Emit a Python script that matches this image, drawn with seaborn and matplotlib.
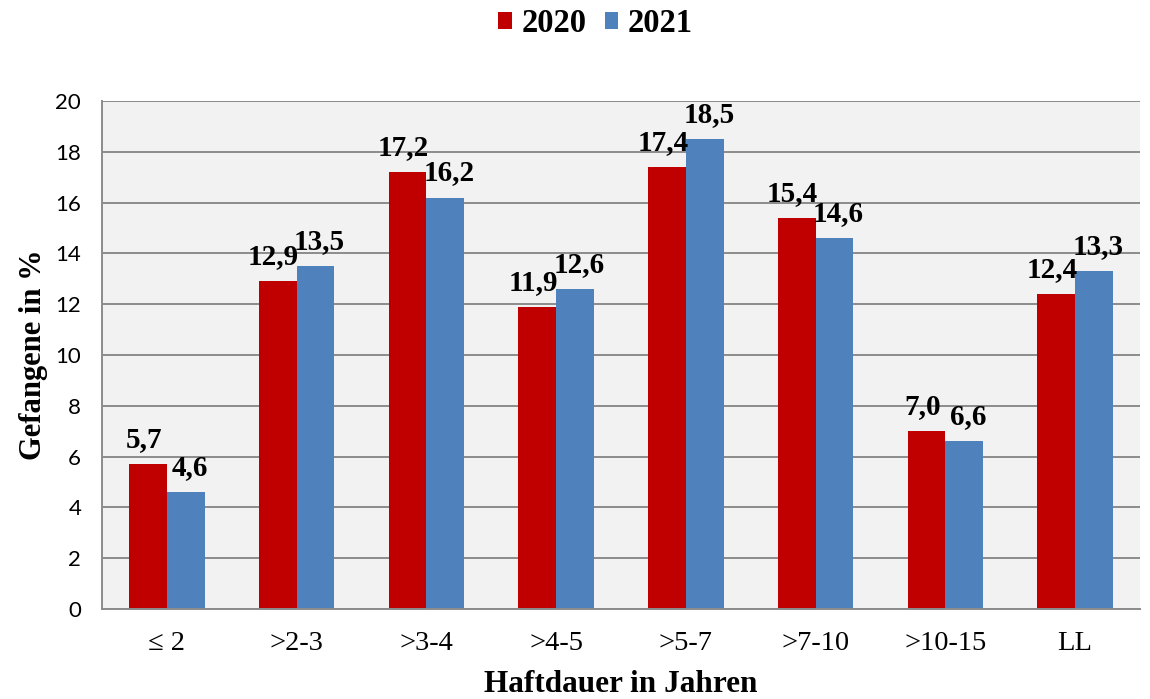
import matplotlib
matplotlib.use("Agg")
import matplotlib.pyplot as plt
import seaborn as sns
import pandas as pd
from matplotlib.patches import Patch
from matplotlib.ticker import FixedLocator

categories = ["\u2264 2", ">2-3", ">3-4", ">4-5", ">5-7", ">7-10", ">10-15", "LL"]
values_2020 = [5.7, 12.9, 17.2, 11.9, 17.4, 15.4, 7.0, 12.4]
values_2021 = [4.6, 13.5, 16.2, 12.6, 18.5, 14.6, 6.6, 13.3]
series = ["2020", "2021"]
colors = ["#C00000", "#4F81BD"]
yticks = [0, 2, 4, 6, 8, 10, 12, 14, 16, 18, 20]

df = pd.DataFrame({
    "Kategorie": categories * 2,
    "Jahr": [series[0]] * len(categories) + [series[1]] * len(categories),
    "Wert": values_2020 + values_2021,
})

sns.set_style("white")
plt.rcParams["text.color"] = "black"
plt.rcParams["axes.labelcolor"] = "black"
plt.rcParams["xtick.color"] = "black"
plt.rcParams["ytick.color"] = "black"
serif = "Liberation Serif"

fig = plt.figure(figsize=(11.5, 6.99), dpi=100)
ax = fig.add_axes([0.0887, 0.1288, 0.9913 - 0.0887, 0.8555 - 0.1288])
ax.set_facecolor("#F2F2F2")

sns.barplot(data=df, x="Kategorie", y="Wert", hue="Jahr", palette=colors,
            width=0.58, ax=ax, legend=False, saturation=1, errorbar=None,
            linewidth=0.8, edgecolor="none")

label_shift = [-3, 3]  # points: red labels nudged left, blue nudged right
for container, dx in zip(ax.containers, label_shift):
    labels = [f"{v:.1f}".replace(".", ",") for v in container.datavalues]
    anns = ax.bar_label(container, labels=labels, padding=8, color="black",
                        fontsize=21, fontweight="bold", family=serif)
    for a in anns:
        a.xyann = (dx, 8)

ax.set_ylim(0, 20)
ax.set_xlim(-0.5, len(categories) - 0.5)
ax.set_yticks(yticks)
ax.yaxis.grid(True, color="#8C8C8C", linewidth=1.4)
ax.set_axisbelow(True)
for s in ["top", "right"]:
    ax.spines[s].set_visible(False)
for s in ["left", "bottom"]:
    ax.spines[s].set_color("#8C8C8C")
    ax.spines[s].set_linewidth(1.4)

ax.tick_params(axis="y", which="major", length=7, width=1.4, color="#8C8C8C",
               labelsize=16, pad=8, labelcolor="black")
for lab in ax.get_yticklabels():
    lab.set_family("Lato")

ax.tick_params(axis="x", which="major", length=0, labelsize=20.5, pad=16, labelcolor="black")
for lab in ax.get_xticklabels():
    lab.set_family(serif)
ax.xaxis.set_minor_locator(FixedLocator([i - 0.5 for i in range(len(categories) + 1)]))
ax.tick_params(axis="x", which="minor", length=7, width=1.4, color="#8C8C8C")

ax.set_xlabel("Haftdauer in Jahren", fontsize=22.5, fontweight="bold", family=serif,
              labelpad=10, color="black")
ax.set_ylabel("Gefangene in %", fontsize=22, fontweight="bold", family=serif,
              labelpad=5, color="black")

handles = [Patch(facecolor=c, edgecolor="none") for c in colors]
leg = fig.legend(handles, series, loc="center", bbox_to_anchor=(0.518, 0.966), ncol=2,
                 frameon=False, handlelength=0.42, handleheight=0.42, handletextpad=0.3,
                 columnspacing=0.55, prop={"family": serif, "weight": "bold", "size": 23.5})
for t in leg.get_texts():
    t.set_color("black")

fig.savefig("out.png", dpi=100)
